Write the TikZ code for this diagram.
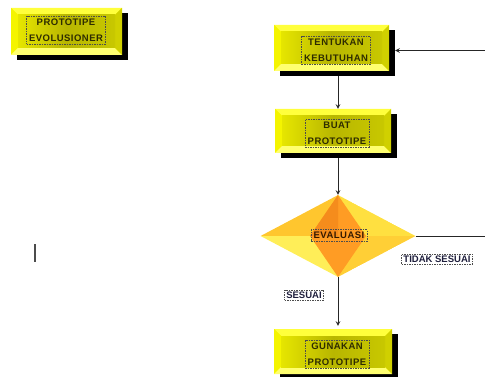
\documentclass[tikz,border=0pt]{standalone}
\usepackage{fontspec}
\setmainfont{Liberation Sans}
\newfontfamily\boxfont{Liberation Sans}[LetterSpace=5]
\usetikzlibrary{arrows,shapes}
\definecolor{boxyellow}{HTML}{FFFF00}
\definecolor{bevtop}{HTML}{FFFF3C}
\definecolor{bevleft}{HTML}{F4F400}
\definecolor{bevbot}{HTML}{FFFF70}
\definecolor{bevright}{HTML}{D0D000}
\definecolor{facel}{HTML}{E6E600}
\definecolor{facem}{HTML}{B8B600}
\definecolor{facer}{HTML}{C8C800}
\definecolor{boxtext}{HTML}{2E2C00}
\definecolor{labeltext}{HTML}{1E1E3C}
\definecolor{goldA}{HTML}{FFC62E}
\definecolor{goldB}{HTML}{FFE040}
\definecolor{goldC}{HTML}{FFEE58}
\definecolor{goldD}{HTML}{FFCF36}
\definecolor{orangeA}{HTML}{F58C1C}
\definecolor{orangeB}{HTML}{FF9C24}

\tikzset{
  bevelbox/.style={minimum width=121, minimum height=51, inner sep=0pt,
    path picture={
      \path ([shift={(0pt,5pt)}]path picture bounding box.south west) coordinate (bsw)
            ([shift={(-6pt,0pt)}]path picture bounding box.north east) coordinate (bne)
            ([shift={(7pt,7pt)}]bsw) coordinate (isw)
            ([shift={(-7pt,-7pt)}]bne) coordinate (ine);
      \fill[black] ([shift={(6pt,-5pt)}]bsw) rectangle ([shift={(6pt,-5pt)}]bne);
      \fill[boxyellow] (bsw) rectangle (bne);
      \fill[bevtop] (bsw |- bne) -- (bne) -- (ine) -- (isw |- ine) -- cycle;
      \fill[bevleft] (bsw) -- (bsw |- bne) -- (isw |- ine) -- (isw) -- cycle;
      \fill[bevbot] (bsw) -- (bne |- bsw) -- (ine |- isw) -- (isw) -- cycle;
      \fill[bevright] (bne |- bsw) -- (bne) -- (ine) -- (ine |- isw) -- cycle;
      \shade[left color=facel, right color=facer, middle color=facem] (isw) rectangle (ine);
    }},
  decision/.style={diamond, minimum width=155, minimum height=82, inner sep=0pt,
    path picture={
      \fill[goldA] (path picture bounding box.north) -- (path picture bounding box.west) -- (path picture bounding box.center) -- cycle;
      \fill[goldB] (path picture bounding box.north) -- (path picture bounding box.east) -- (path picture bounding box.center) -- cycle;
      \fill[goldC] (path picture bounding box.south) -- (path picture bounding box.west) -- (path picture bounding box.center) -- cycle;
      \fill[goldD] (path picture bounding box.south) -- (path picture bounding box.east) -- (path picture bounding box.center) -- cycle;
      \fill[orangeB] (path picture bounding box.north) -- ([xshift=-28pt]path picture bounding box.center)
        -- (path picture bounding box.south) -- ([xshift=28pt]path picture bounding box.center) -- cycle;
      \fill[orangeA] (path picture bounding box.north) -- ([xshift=-28pt]path picture bounding box.center)
        -- (path picture bounding box.center) -- cycle;
    }},
  textframe/.style={draw=gray!60!black, dashed, dash pattern=on 1.5pt off 1pt, line width=0.5pt,
    align=center, inner sep=2.5pt, text=boxtext, font=\boxfont\bfseries\fontsize{9.5}{16}\selectfont},
  labelframe/.style={draw=gray!60!black, dashed, dash pattern=on 1.5pt off 1pt, line width=0.5pt,
    inner sep=1.8pt, text=labeltext, font=\bfseries\fontsize{9.5}{11}\selectfont},
  conn/.style={line width=1pt, black!85},
  >=stealth
}

\begin{document}
\begin{tikzpicture}[x=1pt, y=-1pt]
  \useasboundingbox (0,0) rectangle (485,377);
  % kotak judul
  \node[bevelbox, minimum width=117, minimum height=52] (evol) at (69.5,34) {};
  \node[textframe] at (66,30) {PROTOTIPE\\EVOLUSIONER};
  % alur
  \node[bevelbox] (tentukan) at (334.5,50.5) {};
  \node[textframe] at (336,50.5) {TENTUKAN\\KEBUTUHAN};
  \node[bevelbox, minimum width=122, minimum height=49] (buat) at (336,133.5) {};
  \node[textframe] at (337,133) {BUAT\\PROTOTIPE};
  \node[decision] (evaluasi) at (338,236) {};
  \node[textframe, text=black!80!orange, font=\boxfont\bfseries\fontsize{9.5}{11}\selectfont] at (339,235.5) {EVALUASI};
  \node[bevelbox, minimum width=124, minimum height=50] (gunakan) at (336,354) {};
  \node[textframe] at (337,354) {GUNAKAN\\PROTOTIPE};
  \coordinate (balik) at (492,236);
  % panah
  \draw[conn,->] (tentukan.south -| evaluasi.north) -- (buat.north -| evaluasi.north);
  \draw[conn,->] (buat.south -| evaluasi.north) -- (evaluasi.north);
  \draw[conn,->] (evaluasi.south) -- ([yshift=3pt]gunakan.north -| evaluasi.south);
  \draw[conn,->] (evaluasi.east) -- (balik) |- (tentukan.east);
  \node[labelframe] (tidak) at (437,259) {TIDAK SESUAI};
  \node[labelframe] (sesuai) at (304,295) {SESUAI};
  % garis kecil
  \draw[line width=2pt, black!70] (35,244) -- (35,262);
\end{tikzpicture}
\end{document}
